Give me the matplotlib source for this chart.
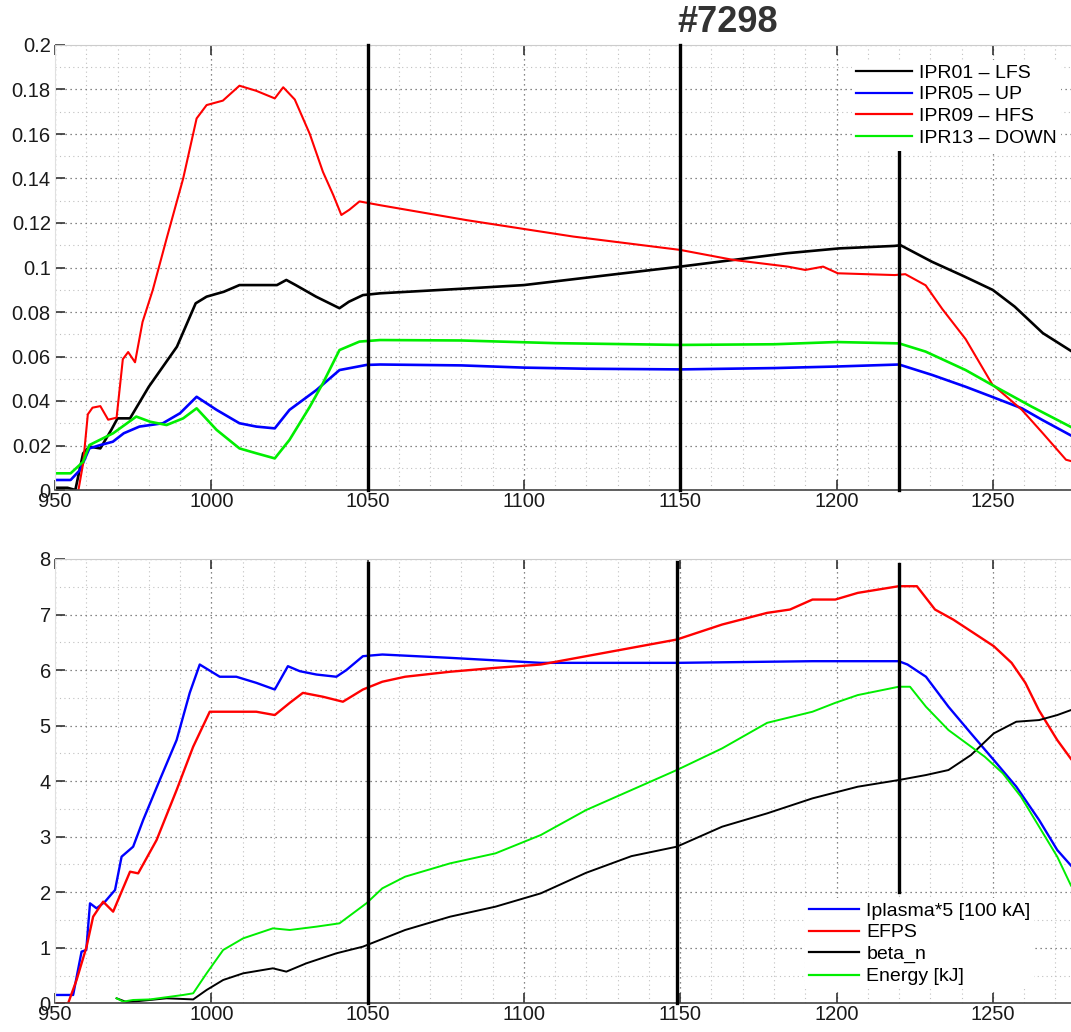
"""
Shot #7298: probe signals (top) and plasma parameters (bottom) vs time.
"""

import numpy as np
import matplotlib.pyplot as plt
from matplotlib.ticker import MultipleLocator, FuncFormatter

plt.rcParams['font.family'] = ['Liberation Sans', 'DejaVu Sans']

# ---- top panel: IPR probes ----
t_ipr01 = [948, 954, 956.5, 959, 961, 964.5, 968, 970, 974, 980, 989, 995, 998.5, 1004, 1009,
           1014, 1021, 1024, 1027, 1033.5, 1041, 1044, 1048.5, 1054, 1082, 1100, 1127, 1150,
           1167, 1184, 1201, 1218.5, 1220.5, 1230.5, 1241, 1250, 1257, 1266, 1275]
ipr01 = [0.001, 0.001, 0.0, 0.0165, 0.0195, 0.0187, 0.027, 0.0322, 0.0322, 0.0464, 0.0644,
         0.0839, 0.0869, 0.0891, 0.0921, 0.0921, 0.0921, 0.0944, 0.0921, 0.0869, 0.0817,
         0.0846, 0.0876, 0.0884, 0.0906, 0.0921, 0.0966, 0.1004, 0.1034, 0.1064, 0.1086,
         0.1097, 0.110, 0.1026, 0.0959, 0.0899, 0.0824, 0.0705, 0.0625]

t_ipr05 = [948, 955, 958, 961, 964.5, 968.5, 972, 977, 984.5, 990, 995.3, 1001.7, 1009, 1014.4,
           1020.3, 1025, 1033.6, 1041, 1049.6, 1054, 1080, 1100, 1120, 1150, 1180, 1200, 1220,
           1230.6, 1241.3, 1249.7, 1259.3, 1265.8, 1275]
ipr05 = [0.0045, 0.0045, 0.009, 0.0187, 0.0202, 0.0217, 0.0255, 0.0285, 0.030, 0.0345, 0.0419,
         0.036, 0.030, 0.0285, 0.0277, 0.036, 0.0449, 0.0539, 0.0562, 0.0564, 0.0560, 0.0550,
         0.0545, 0.0542, 0.0548, 0.0555, 0.0564, 0.0517, 0.0464, 0.0419, 0.0367, 0.0315, 0.0245]

t_ipr09 = [957.5, 959, 960.5, 962, 964.5, 967, 969.7, 971.7, 973.4, 975.6, 978, 981.3, 985.7,
           991, 995.3, 998.5, 1003.7, 1009, 1014.4, 1020.3, 1023, 1026.7, 1031.5, 1035.7, 1039,
           1041.6, 1044.2, 1047.4, 1054, 1081.6, 1115.8, 1150, 1167, 1184.4, 1190, 1195.7,
           1200.4, 1218.6, 1222, 1228.5, 1233.8, 1241.3, 1249.8, 1259.3, 1265.8, 1273.4, 1275]
ipr09 = [0.0, 0.012, 0.034, 0.037, 0.0377, 0.0316, 0.0325, 0.0588, 0.062, 0.0574, 0.0755, 0.090,
         0.113, 0.140, 0.167, 0.173, 0.175, 0.1817, 0.1794, 0.176, 0.181, 0.1755, 0.160, 0.143,
         0.1326, 0.1236, 0.126, 0.1297, 0.128, 0.1213, 0.1139, 0.1079, 0.1034, 0.1004, 0.0989,
         0.1004, 0.0974, 0.0966, 0.097, 0.092, 0.0814, 0.0678, 0.0475, 0.036, 0.0258, 0.0136,
         0.013]

t_ipr13 = [948, 955, 959, 961, 968.6, 976, 980.4, 985.7, 991, 995.3, 1001.7, 1009, 1014.4,
           1020.3, 1025, 1031.5, 1035.7, 1041, 1047.4, 1054, 1080, 1110, 1150, 1180, 1200, 1220,
           1228.5, 1241.3, 1250.8, 1262.5, 1275]
ipr13 = [0.0075, 0.0075, 0.0127, 0.0202, 0.0255, 0.033, 0.0307, 0.0292, 0.0322, 0.0367, 0.027,
         0.0187, 0.0165, 0.0142, 0.0225, 0.0374, 0.048, 0.0629, 0.0667, 0.0674, 0.0672, 0.0660,
         0.0652, 0.0655, 0.0665, 0.0659, 0.0622, 0.0539, 0.0464, 0.0374, 0.0283]

# ---- bottom panel: plasma parameters ----
t_ip = [948, 955.8, 958.5, 960, 961.2, 963.3, 966, 969.2, 971.3, 975, 978.2, 983.5, 988.9,
        993.1, 996.3, 1002.7, 1008, 1014.4, 1020.3, 1024.5, 1028.3, 1033.6, 1040, 1043.2,
        1048.5, 1054.7, 1076.4, 1105.4, 1148.9, 1192.3, 1219.9, 1222.7, 1228.6, 1235.8, 1243,
        1250.3, 1257.5, 1264.8, 1270.6, 1275]
iplasma = [0.15, 0.15, 0.93, 0.96, 1.8, 1.71, 1.83, 2.04, 2.64, 2.82, 3.30, 4.02, 4.74, 5.59,
           6.10, 5.88, 5.88, 5.77, 5.65, 6.07, 5.98, 5.92, 5.88, 6.0, 6.25, 6.28, 6.22, 6.13,
           6.13, 6.16, 6.16, 6.10, 5.88, 5.34, 4.86, 4.38, 3.90, 3.30, 2.76, 2.48]

t_efps = [948, 954.2, 956.9, 960.1, 962.2, 965.4, 968.6, 974, 976.6, 982.5, 988.9, 994.2, 999.5,
          1008, 1014.4, 1020.3, 1025.1, 1029.3, 1035.7, 1042.1, 1048.5, 1054.7, 1062, 1076.4,
          1090.9, 1105.4, 1119.9, 1134.4, 1148.9, 1163.4, 1177.8, 1185.1, 1192.3, 1199.6,
          1206.8, 1219.9, 1225.7, 1231.5, 1237.3, 1243, 1250.3, 1256, 1260.4, 1264.7, 1270.6,
          1275]
efps = [0, 0, 0.42, 1.02, 1.56, 1.83, 1.65, 2.37, 2.34, 2.94, 3.84, 4.62, 5.25, 5.25, 5.25, 5.19,
        5.41, 5.59, 5.52, 5.43, 5.65, 5.79, 5.88, 5.97, 6.04, 6.10, 6.25, 6.40, 6.55, 6.82, 7.03,
        7.09, 7.27, 7.27, 7.39, 7.51, 7.51, 7.09, 6.91, 6.70, 6.43, 6.13, 5.77, 5.28, 4.74, 4.40]

t_beta = [969.7, 973, 980.4, 985.7, 994.2, 998.5, 1003.8, 1010.2, 1019.7, 1024, 1030.4, 1040,
          1048.5, 1062, 1076.4, 1090.9, 1105.4, 1119.9, 1134.4, 1148.9, 1163.4, 1177.8, 1192.3,
          1206.8, 1219.9, 1228.6, 1235.8, 1243, 1250.3, 1257.5, 1264.8, 1270.6, 1275]
beta_n = [0.09, 0.02, 0.06, 0.09, 0.07, 0.24, 0.42, 0.54, 0.63, 0.57, 0.72, 0.90, 1.02, 1.32,
          1.56, 1.74, 1.98, 2.35, 2.65, 2.82, 3.18, 3.42, 3.69, 3.90, 4.02, 4.11, 4.20, 4.47,
          4.86, 5.07, 5.10, 5.19, 5.28]

t_energy = [969.7, 971.8, 975, 980.4, 985.7, 991, 994.2, 998.5, 1003.8, 1010.2, 1019.7, 1025.1,
            1033.6, 1041, 1045.3, 1049.6, 1054.7, 1062, 1076.4, 1090.9, 1105.4, 1119.9, 1134.4,
            1148.9, 1163.4, 1177.8, 1192.3, 1199.6, 1206.8, 1219.9, 1223.5, 1228.6, 1235.8,
            1247.4, 1253.2, 1259, 1264.8, 1270.6, 1275]
energy = [0.09, 0.03, 0.06, 0.07, 0.11, 0.15, 0.18, 0.54, 0.96, 1.17, 1.35, 1.32, 1.38, 1.44,
          1.62, 1.80, 2.07, 2.28, 2.52, 2.70, 3.03, 3.48, 3.84, 4.20, 4.59, 5.05, 5.25, 5.41,
          5.55, 5.70, 5.70, 5.34, 4.92, 4.44, 4.14, 3.72, 3.18, 2.64, 2.12]

# time markers: (time, y_start, y_end)
markers_top = [(1050, 0, 0.2), (1150, 0, 0.2), (1220, 0, 0.154)]
markers_bottom = [(1050, 0, 7.93), (1149, 0, 7.95), (1220, 2.0, 7.91)]

shot_label = '#7298'
x_range = (950, 1275)

W, H = 1071, 1032


def style_axes(ax, ymax, ymajor, yminor):
    """MATLAB-like box, inward ticks and dotted grids."""
    ax.set_xlim(x_range)
    ax.set_ylim(0, ymax)
    ax.xaxis.set_major_locator(MultipleLocator(50))
    ax.xaxis.set_minor_locator(MultipleLocator(10))
    ax.yaxis.set_major_locator(MultipleLocator(ymajor))
    ax.yaxis.set_minor_locator(MultipleLocator(yminor))
    ax.yaxis.set_major_formatter(FuncFormatter(lambda v, p: f'{v:g}'))
    ax.grid(True, which='major', linestyle=(0, (1, 3)), color='#606060', linewidth=0.9)
    ax.grid(True, which='minor', linestyle=(0, (1, 3)), color='#c0c0c0', linewidth=0.8)
    ax.tick_params(which='major', direction='in', length=7, width=1.2, color='#333333',
                   top=True, labelsize=14.5, pad=3, labelcolor='#1a1a1a')
    ax.tick_params(which='minor', length=0)
    ax.tick_params(axis='x', pad=1.5)
    ax.spines['right'].set_visible(False)
    ax.spines['top'].set_color('#cccccc')
    ax.spines['left'].set_color('#e0e0e0')
    ax.spines['bottom'].set_color('#444444')
    ax.spines['bottom'].set_linewidth(1.2)
    ax.set_axisbelow(True)


def draw_markers(ax, markers):
    for t, y0, y1 in markers:
        ax.plot([t, t], [y0, y1], color='black', linewidth=2.4, zorder=5, clip_on=False)


def legend_at(ax, left_px, top_px, hlen):
    leg = ax.legend(loc='upper left', bbox_to_anchor=(left_px / W, 1 - top_px / H),
                    bbox_transform=ax.figure.transFigure, fontsize=14, frameon=True,
                    facecolor='white', edgecolor='none', framealpha=1, fancybox=False,
                    borderpad=0.2, borderaxespad=0, handlelength=hlen, handletextpad=0.35,
                    labelspacing=0.22)
    leg.set_zorder(10)
    for line in leg.get_lines():
        line.set_linewidth(1.6)
    return leg


fig = plt.figure(figsize=(W / 100, H / 100), dpi=100)

left = 55 / W
width = 1 - left

# top panel
ax1 = fig.add_axes([left, 1 - 490 / H, width, (490 - 45) / H])
style_axes(ax1, 0.2, 0.02, 0.01)
ax1.plot(t_ipr01, ipr01, color='black', linewidth=1.9, label='IPR01 – LFS')
ax1.plot(t_ipr05, ipr05, color='#0000ff', linewidth=1.9, label='IPR05 – UP')
ax1.plot(t_ipr09, ipr09, color='#ff0000', linewidth=1.5, label='IPR09 – HFS')
ax1.plot(t_ipr13, ipr13, color='#00ee00', linewidth=1.9, label='IPR13 – DOWN')
draw_markers(ax1, markers_top)
legend_at(ax1, 852, 60, 2.9)

# bottom panel
ax2 = fig.add_axes([left, 1 - 1003.3 / H, width, (1003.3 - 559) / H])
style_axes(ax2, 8, 1, 0.5)
ax2.plot(t_ip, iplasma, color='#0000ff', linewidth=1.7, label='Iplasma*5 [100 kA]')
ax2.plot(t_efps, efps, color='#ff0000', linewidth=1.7, label='EFPS')
ax2.plot(t_beta, beta_n, color='black', linewidth=1.4, label='beta_n')
ax2.plot(t_energy, energy, color='#00ee00', linewidth=1.4, label='Energy [kJ]')
draw_markers(ax2, markers_bottom)
legend_at(ax2, 805, 898, 2.6)

fig.text(728 / W, 1 - 23 / H, shot_label, ha='center', va='center', fontsize=26,
         fontweight='bold', color='#333333')

fig.savefig('out.png', dpi=100)
print("Saved: out.png")
